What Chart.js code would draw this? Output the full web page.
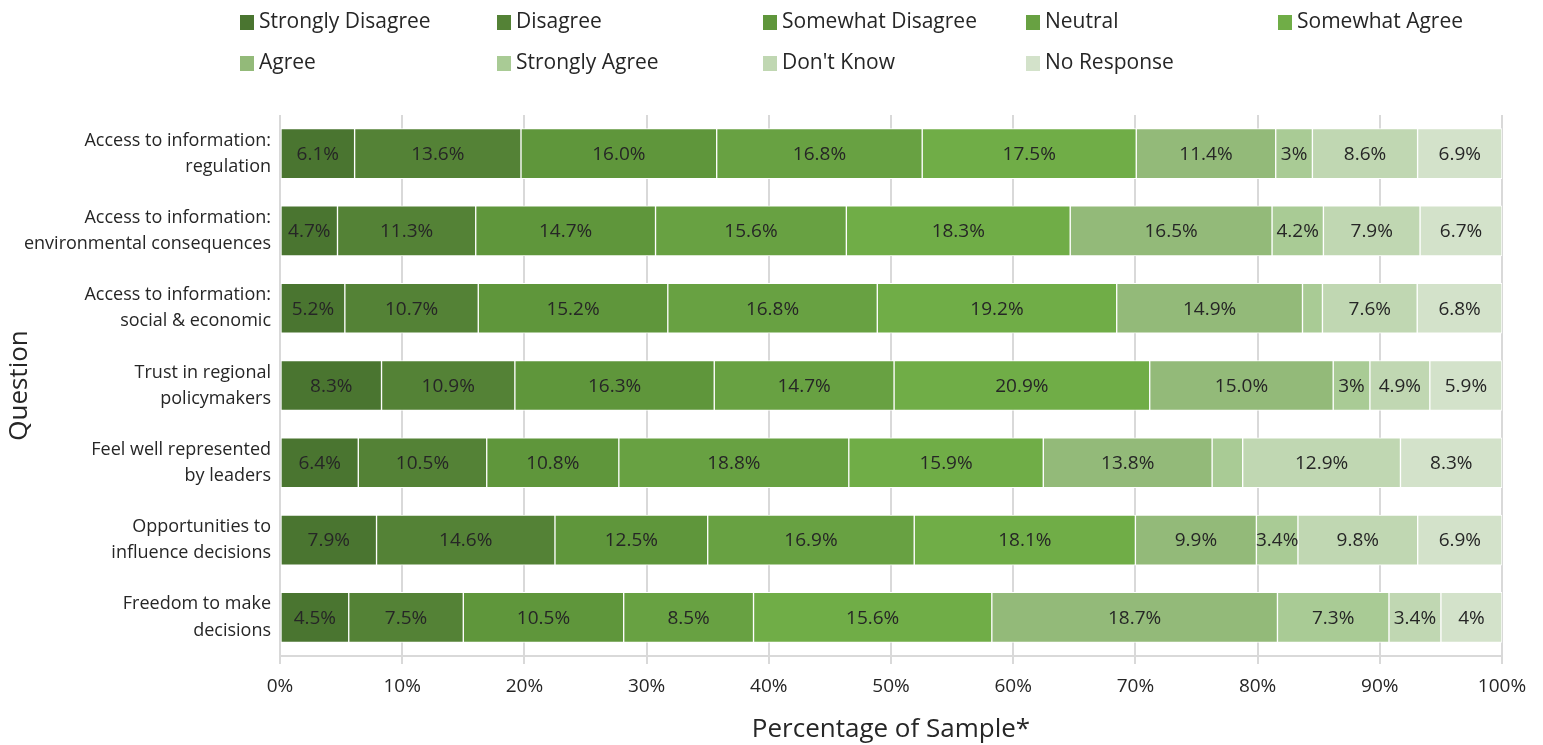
<!DOCTYPE html>
<html>
  <head>
    <script src="https://cdn.jsdelivr.net/npm/chart.js"></script>
    <style>
      body { margin: 0; background: #fff; }
      #wrap { width: 1543px; height: 745px; }
    </style>
    <script>
      // Questions (y axis, two lines each)
      const questions = [
        ['Access to information:', 'regulation'],
        ['Access to information:', 'environmental consequences'],
        ['Access to information:', 'social & economic'],
        ['Trust in regional', 'policymakers'],
        ['Feel well represented', 'by leaders'],
        ['Opportunities to', 'influence decisions'],
        ['Freedom to make', 'decisions']
      ];

      const seriesNames = ['Strongly Disagree', 'Disagree', 'Somewhat Disagree', 'Neutral',
        'Somewhat Agree', 'Agree', 'Strongly Agree', "Don't Know", 'No Response'];

      // values as printed on the bars (percent)
      const stronglyDisagree = ['6.1', '4.7', '5.2', '8.3', '6.4', '7.9', '4.5'];
      const disagree         = ['13.6', '11.3', '10.7', '10.9', '10.5', '14.6', '7.5'];
      const somewhatDisagree = ['16.0', '14.7', '15.2', '16.3', '10.8', '12.5', '10.5'];
      const neutral          = ['16.8', '15.6', '16.8', '14.7', '18.8', '16.9', '8.5'];
      const somewhatAgree    = ['17.5', '18.3', '19.2', '20.9', '15.9', '18.1', '15.6'];
      const agree            = ['11.4', '16.5', '14.9', '15.0', '13.8', '9.9', '18.7'];
      const stronglyAgree    = ['3', '4.2', '1.6', '3', '2.5', '3.4', '7.3'];
      const dontKnow         = ['8.6', '7.9', '7.6', '4.9', '12.9', '9.8', '3.4'];
      const noResponse       = ['6.9', '6.7', '6.8', '5.9', '8.3', '6.9', '4'];

      const xTicks = [0, 10, 20, 30, 40, 50, 60, 70, 80, 90, 100];

      const allSeries = [stronglyDisagree, disagree, somewhatDisagree, neutral, somewhatAgree,
        agree, stronglyAgree, dontKnow, noResponse];

      const colors = ['#4a7530', '#548236', '#5f963b', '#68a142', '#70ad47',
        '#93ba79', '#a9cb95', '#c0d7b2', '#d3e2ca'];

      window.onload = function() {
        const FONT = '"Open Sans", "Noto Sans", sans-serif';

        // each bar is stretched to 100% of the sample
        const rowTotals = questions.map((q, j) =>
          allSeries.reduce((s, arr) => s + parseFloat(arr[j]), 0));

        const datasets = allSeries.map((arr, i) => ({
          label: seriesNames[i],
          data: arr.map((v, j) => parseFloat(v) / rowTotals[j] * 100),
          backgroundColor: colors[i],
          borderColor: '#ffffff',
          borderWidth: 1,
          borderSkipped: false,
          barThickness: 50
        }));

        // draws the values in the middle of each segment
        const segmentLabels = {
          id: 'segmentLabels',
          afterDatasetsDraw(chart) {
            const ctx = chart.ctx;
            ctx.save();
            ctx.font = '19px ' + FONT;
            ctx.fillStyle = '#262626';
            ctx.textAlign = 'center';
            ctx.textBaseline = 'middle';
            chart.data.datasets.forEach((ds, i) => {
              const meta = chart.getDatasetMeta(i);
              meta.data.forEach((bar, j) => {
                const raw = allSeries[i][j];
                if (parseFloat(raw) < 2.8) return;
                const p = bar.getProps(['x', 'y', 'base'], true);
                ctx.fillText(raw + '%', (p.x + p.base) / 2, p.y + 1);
              });
            });
            ctx.restore();
          }
        };

        // legend laid out in fixed columns like the original
        const gridLegend = {
          id: 'gridLegend',
          afterDraw(chart) {
            const ctx = chart.ctx;
            const cols = [240, 497, 763, 1026, 1278];
            const rows = [22, 63];
            ctx.save();
            ctx.font = '21px ' + FONT;
            ctx.textBaseline = 'middle';
            chart.data.datasets.forEach((ds, i) => {
              const x = cols[i % 5];
              const y = rows[Math.floor(i / 5)];
              ctx.fillStyle = ds.backgroundColor;
              ctx.fillRect(x, y - 7, 14, 15);
              ctx.fillStyle = '#262626';
              ctx.fillText(ds.label, x + 19, y);
            });
            ctx.restore();
          }
        };

        new Chart(document.getElementById('myChart'), {
          type: 'bar',
          data: { labels: questions, datasets: datasets },
          plugins: [segmentLabels, gridLegend],
          options: {
            indexAxis: 'y',
            responsive: false,
            animation: false,
            layout: { padding: { top: 115, right: 41, left: 0, bottom: 0 } },
            plugins: {
              legend: { display: false },
              tooltip: { enabled: false }
            },
            scales: {
              x: {
                stacked: true,
                min: 0,
                max: 100,
                afterBuildTicks(scale) {
                  scale.ticks = xTicks.map(v => ({ value: v }));
                },
                afterFit(scale) { scale.height = 89; },
                grid: { color: '#d9d9d9', lineWidth: 2, tickLength: 8, drawTicks: true },
                border: { display: true, color: '#d9d9d9', width: 2 },
                ticks: {
                  padding: 11,
                  color: '#262626',
                  font: { family: FONT, size: 19 },
                  callback: v => v + '%'
                },
                title: {
                  display: true,
                  text: 'Percentage of Sample*',
                  color: '#262626',
                  font: { family: FONT, size: 26 },
                  padding: { top: 2, bottom: 0 }
                }
              },
              y: {
                stacked: true,
                afterFit(scale) { scale.width = 280; },
                grid: { display: false },
                border: { display: false },
                ticks: {
                  padding: 1,
                  color: '#262626',
                  font: { family: FONT, size: 18, lineHeight: 1.45 }
                },
                title: {
                  display: true,
                  text: 'Question',
                  color: '#262626',
                  font: { family: FONT, size: 26 },
                  padding: { top: 4, bottom: 0 }
                }
              }
            }
          }
        });
      };
    </script>
  </head>
  <body>
    <div id="wrap">
      <canvas id="myChart" width="1543" height="745"></canvas>
    </div>
  </body>
</html>
